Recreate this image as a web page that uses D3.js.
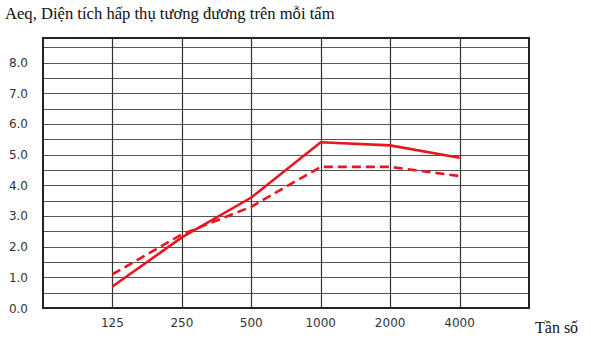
<!DOCTYPE html>
<html>
<head>
<meta charset="utf-8">
<script src="https://cdn.jsdelivr.net/npm/d3@7"></script>
<style>
  body { margin: 0; background: #fff; }
  svg { display: block; }
</style>
</head>
<body>
<svg id="chart"></svg>
<script>
const frequencies = ['125', '250', '500', '1000', '2000', '4000']
const solidValues = [0.7, 2.3, 3.6, 5.4, 5.3, 4.9]
const dashedValues = [1.1, 2.4, 3.3, 4.6, 4.6, 4.3]
const yTickLabels = ['0.0', '1.0', '2.0', '3.0', '4.0', '5.0', '6.0', '7.0', '8.0']

const width = 591
const height = 342
const svg = d3.select('#chart').attr('width', width).attr('height', height)

const plotLeft = 43
const plotRight = 529
const plotTop = 38
const plotBottom = 308

// slot 0 and slot 7 are empty columns at the ends
const x = d3.scaleLinear().domain([0, 7]).range([plotLeft, plotRight])
const y = d3.scaleLinear().domain([0, 8.8]).range([plotBottom, plotTop])

// Horizontal grid, every 0.5
const hGrid = d3.range(0.5, 8.8, 0.5)
svg.selectAll('line.hgrid')
  .data(hGrid)
  .enter()
  .append('line')
  .attr('class', 'hgrid')
  .attr('x1', plotLeft)
  .attr('x2', plotRight)
  .attr('y1', d => Math.round(y(d)) + 0.5)
  .attr('y2', d => Math.round(y(d)) + 0.5)
  .attr('stroke', '#555')
  .attr('stroke-width', 1.2)

// Vertical grid at the frequencies
svg.selectAll('line.vgrid')
  .data(frequencies)
  .enter()
  .append('line')
  .attr('class', 'vgrid')
  .attr('x1', (d, i) => Math.round(x(i + 1)) + 0.5)
  .attr('x2', (d, i) => Math.round(x(i + 1)) + 0.5)
  .attr('y1', plotTop)
  .attr('y2', plotBottom)
  .attr('stroke', '#333')
  .attr('stroke-width', 1.2)

// Frame
svg.append('rect')
  .attr('x', plotLeft)
  .attr('y', plotTop)
  .attr('width', plotRight - plotLeft)
  .attr('height', plotBottom - plotTop)
  .attr('fill', 'none')
  .attr('stroke', '#222')
  .attr('stroke-width', 2)

// Y labels
svg.selectAll('text.ylab')
  .data(yTickLabels)
  .enter()
  .append('text')
  .attr('class', 'ylab')
  .attr('x', 28)
  .attr('y', d => y(+d) + 4.5)
  .attr('text-anchor', 'end')
  .attr('font-family', 'DejaVu Sans, sans-serif')
  .attr('font-size', 12)
  .attr('fill', '#333')
  .text(d => d)

// X labels
svg.selectAll('text.xlab')
  .data(frequencies)
  .enter()
  .append('text')
  .attr('class', 'xlab')
  .attr('x', (d, i) => x(i + 1))
  .attr('y', 327)
  .attr('text-anchor', 'middle')
  .attr('font-family', 'DejaVu Sans, sans-serif')
  .attr('font-size', 12)
  .attr('fill', '#333')
  .text(d => d)

const line = d3.line()
  .x((d, i) => x(i + 1))
  .y(d => y(d))

svg.append('path')
  .datum(dashedValues)
  .attr('d', line)
  .attr('fill', 'none')
  .attr('stroke', '#e8161d')
  .attr('stroke-width', 2.6)
  .attr('stroke-dasharray', '9,5')

svg.append('path')
  .datum(solidValues)
  .attr('d', line)
  .attr('fill', 'none')
  .attr('stroke', '#e8161d')
  .attr('stroke-width', 2.6)

// Titles
svg.append('text')
  .attr('x', 5)
  .attr('y', 19)
  .attr('font-family', 'Liberation Serif, serif')
  .attr('font-size', 16.6)
  .attr('fill', '#111')
  .text('Aeq, Diện tích hấp thụ tương đương trên mỗi tấm')

svg.append('text')
  .attr('x', 535)
  .attr('y', 333)
  .attr('font-family', 'Liberation Serif, serif')
  .attr('font-size', 16)
  .attr('fill', '#111')
  .text('Tần số')
</script>
</body>
</html>
